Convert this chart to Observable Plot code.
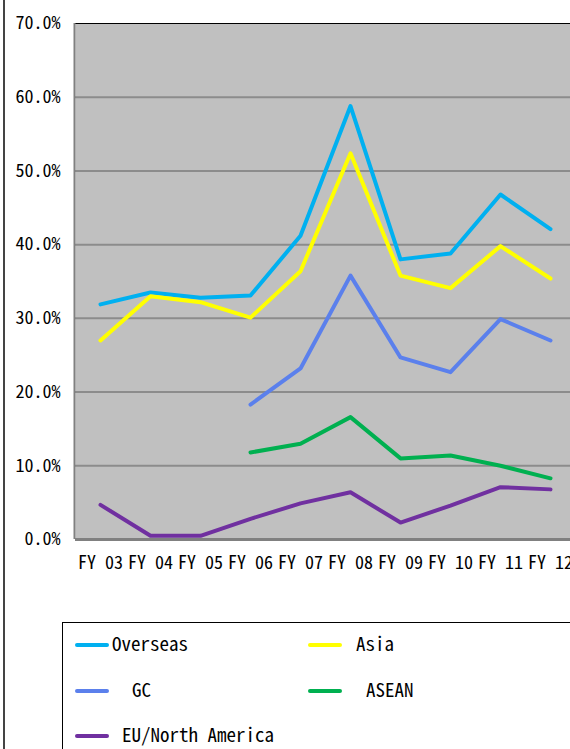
<!DOCTYPE html>
<html>
<head>
<meta charset="utf-8">
<script src="https://cdn.jsdelivr.net/npm/d3@7"></script>
<script src="https://cdn.jsdelivr.net/npm/@observablehq/plot@0.6"></script>
<style>
  html, body { margin: 0; padding: 0; background: #fff; overflow: hidden; }
  #wrap { position: relative; width: 570px; height: 749px; overflow: hidden; }
  #edge { position: absolute; left: 3px; top: 0; width: 2px; height: 749px; background: #444; }
  #chart { position: absolute; left: 0; top: 0; width: 575px; }
  #chart svg { max-width: none !important; }
  #legend { position: absolute; left: 62px; top: 622px; width: 600px; height: 200px;
            border: 1px solid #000; box-sizing: border-box; background: #fff; }
  .sw { position: absolute; height: 4px; width: 34px; border-radius: 2px; }
  .lt { position: absolute; font-family: 'Noto Sans Mono CJK JP', 'DejaVu Sans Mono', monospace;
        font-size: 19px; line-height: 20px; color: #000; white-space: pre; }
</style>
</head>
<body>
<div id="wrap">
  <div id="chart"></div>
  <div id="edge"></div>
  <div id="legend"></div>
</div>
<script>
const years = ["FY 03","FY 04","FY 05","FY 06","FY 07","FY 08","FY 09","FY 10","FY 11","FY 12"];
const overseas = [31.9, 33.5, 32.8, 33.1, 41.2, 58.8, 38.0, 38.8, 46.8, 42.1];
const asia     = [27.0, 33.0, 32.2, 30.1, 36.4, 52.4, 35.8, 34.1, 39.8, 35.4];
const gc       = [null, null, null, 18.3, 23.2, 35.8, 24.7, 22.7, 29.9, 27.0];
const asean    = [null, null, null, 11.8, 13.0, 16.6, 11.0, 11.4, 10.0, 8.3];
const euna     = [4.7, 0.5, 0.5, 2.8, 4.9, 6.4, 2.3, 4.6, 7.1, 6.8];
const seriesNames  = ["Overseas", "Asia", "GC", "ASEAN", "EU/North America"];
const seriesColors = ["#00b0f0", "#ffff00", "#5b80ec", "#00b050", "#7030a0"];
const yTicks = [0, 10, 20, 30, 40, 50, 60, 70];

const seriesValues = [overseas, asia, gc, asean, euna];
const rows = [];
seriesNames.forEach((name, si) => {
  seriesValues[si].forEach((v, i) => {
    if (v != null) rows.push({series: name, year: years[i], value: v});
  });
});

const font = "'Noto Sans Mono CJK JP', 'DejaVu Sans Mono', monospace";

const chart = Plot.plot({
  width: 575,
  height: 600,
  marginLeft: 75,
  marginRight: 0,
  marginTop: 23,
  marginBottom: 61,
  style: {fontFamily: font, fontSize: "18px", color: "#000", background: "transparent", overflow: "visible"},
  x: {type: "point", domain: years, padding: 0.5},
  y: {domain: [0, 70]},
  color: {domain: seriesNames, range: seriesColors},
  marks: [
    Plot.frame({fill: "#c0c0c0", stroke: null}),
    Plot.gridY(yTicks.filter(d => d > 0 && d < 70), {stroke: "#8c8c8c", strokeOpacity: 1, strokeWidth: 2}),
    Plot.ruleY([70], {stroke: "#000", strokeWidth: 1}),
    Plot.ruleX([years[0]], {stroke: "#808080", strokeWidth: 2, dx: -26}),
    Plot.ruleY([0], {stroke: "#808080", strokeWidth: 3}),
    Plot.line(rows, {x: "year", y: "value", z: "series", stroke: "series",
      strokeWidth: 4, strokeLinejoin: "round", strokeLinecap: "round"}),
    Plot.axisY({ticks: yTicks, tickFormat: d => d.toFixed(1) + "%", tickSize: 0, tickPadding: 15,
      fontSize: 18, label: null}),
    Plot.axisX({tickSize: 0, tickPadding: 17, fontSize: 18, label: null})
  ]
});
document.getElementById("chart").appendChild(chart);

const legend = document.getElementById("legend");
const legendPos = [
  {sx: 12, sy: 20, tx: 49},
  {sx: 245, sy: 20, tx: 293},
  {sx: 12, sy: 66, tx: 69},
  {sx: 245, sy: 66, tx: 303},
  {sx: 12, sy: 111, tx: 59}
];
seriesNames.forEach((name, i) => {
  const p = legendPos[i];
  const sw = document.createElement("div");
  sw.className = "sw";
  sw.style.left = p.sx + "px";
  sw.style.top = p.sy + "px";
  sw.style.background = seriesColors[i];
  legend.appendChild(sw);
  const t = document.createElement("div");
  t.className = "lt";
  t.style.left = p.tx + "px";
  t.style.top = (p.sy - 10) + "px";
  t.textContent = name;
  legend.appendChild(t);
});
</script>
</body>
</html>
